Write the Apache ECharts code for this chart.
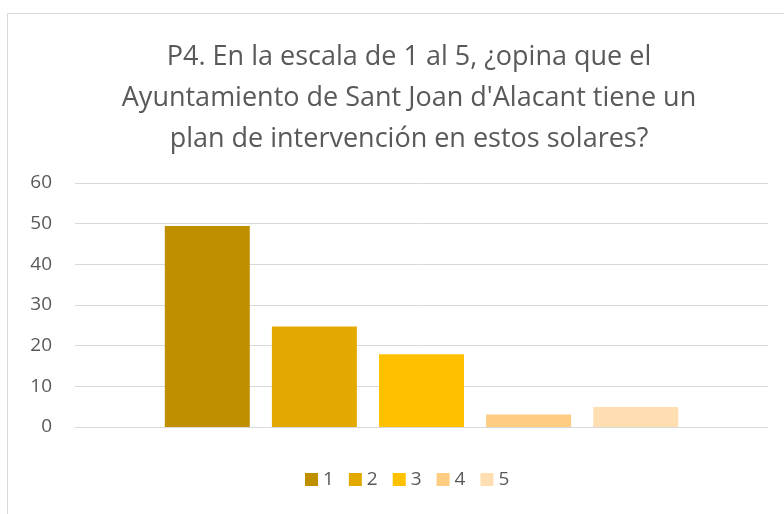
<!DOCTYPE html>
<html>
<head>
<meta charset="utf-8">
<script src="https://cdn.jsdelivr.net/npm/echarts@6/dist/echarts.min.js"></script>
<style>
  html, body { margin: 0; padding: 0; background: #fff; }
  #chart { width: 784px; height: 514px; }
</style>
</head>
<body>
<div id="chart"></div>
<script>
const categories = [""];
const seriesNames = ["1", "2", "3", "4", "5"];
const seriesValues = [49.4, 24.7, 17.9, 3.1, 4.9];
const seriesColors = ["#BF8F00", "#E2AA00", "#FFC000", "#FFCD82", "#FFDFB2"];
const yTicks = [0, 10, 20, 30, 40, 50, 60];

const chart = echarts.init(document.getElementById("chart"));

chart.setOption({
  backgroundColor: "#fff",
  animation: false,
  graphic: [
    {
      type: "rect",
      shape: { x: 7.5, y: 13.5, width: 800, height: 520 },
      style: { fill: "none", stroke: "#d9d9d9", lineWidth: 1 }
    }
  ],
  title: {
    text: "P4. En la escala de 1 al 5, ¿opina que el\nAyuntamiento de Sant Joan d'Alacant tiene un\nplan de intervención en estos solares?",
    left: 404,
    top: 32,
    textAlign: "center",
    textStyle: {
      fontFamily: "Open Sans",
      fontWeight: "normal",
      fontSize: 27,
      color: "#595959",
      lineHeight: 41
    }
  },
  legend: {
    bottom: 20,
    left: 300,
    itemWidth: 13,
    itemHeight: 13,
    itemGap: 15,
    icon: "rect",
    textStyle: { fontFamily: "Open Sans", fontSize: 19, color: "#595959" },
    data: seriesNames
  },
  grid: { left: 75, right: 16, top: 183, bottom: 87 },
  xAxis: {
    type: "category",
    data: categories,
    axisLine: { lineStyle: { color: "#d9d9d9", width: 1 } },
    axisTick: { show: false },
    axisLabel: { show: false }
  },
  yAxis: {
    type: "value",
    min: yTicks[0],
    max: yTicks[yTicks.length - 1],
    interval: 10,
    axisLine: { show: false },
    axisTick: { show: false },
    axisLabel: { fontFamily: "Open Sans", fontSize: 19, color: "#595959", margin: 23 },
    splitLine: { lineStyle: { color: "#d9d9d9", width: 1 } }
  },
  series: seriesNames.map(function (name, i) {
    return {
      name: name,
      type: "bar",
      barWidth: 85,
      barGap: "26%",
      itemStyle: { color: seriesColors[i] },
      data: [seriesValues[i]]
    };
  })
});
</script>
</body>
</html>
